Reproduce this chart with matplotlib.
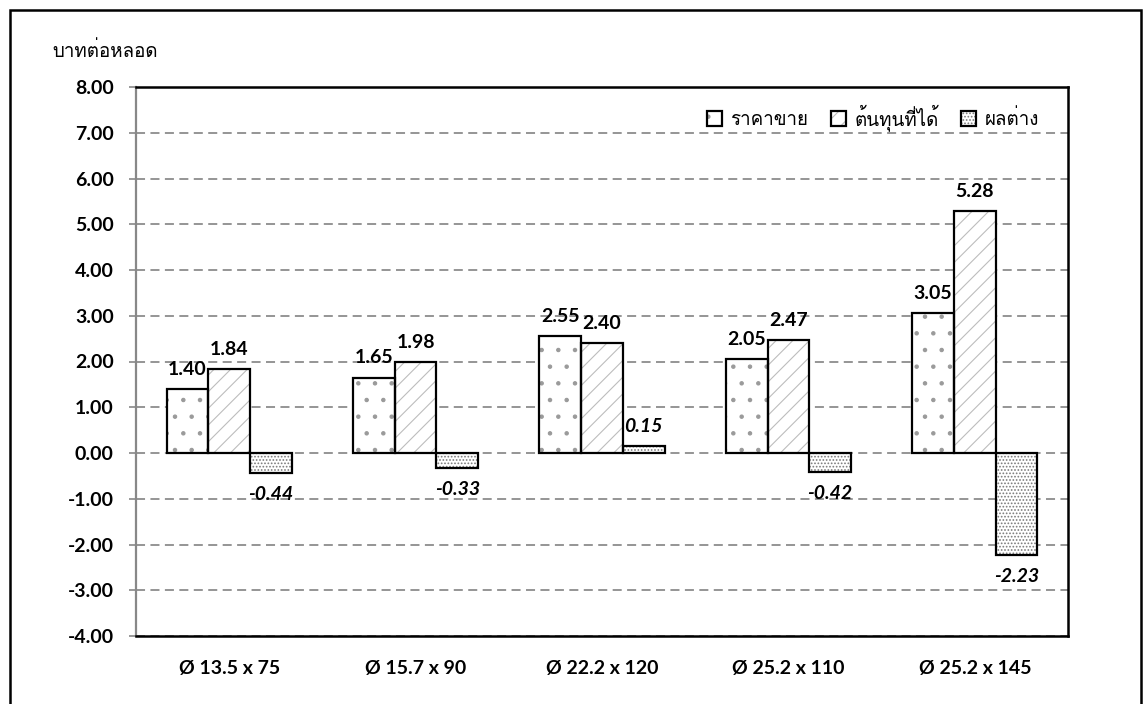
import numpy as np
import matplotlib
matplotlib.use('Agg')
import matplotlib.pyplot as plt
from matplotlib import font_manager as fm
from matplotlib.ft2font import FT2Font
from matplotlib.patches import Rectangle

# data
categories = ['Ø 13.5 x 75', 'Ø 15.7 x 90', 'Ø 22.2 x 120', 'Ø 25.2 x 110', 'Ø 25.2 x 145']
series_names = ['ราคาขาย', 'ต้นทุนที่ได้', 'ผลต่าง']
price = [1.40, 1.65, 2.55, 2.05, 3.05]
cost = [1.84, 1.98, 2.40, 2.47, 5.28]
diff = [-0.44, -0.33, 0.15, -0.42, -2.23]
y_title = 'บาทต่อหลอด'


def find_thai_font():
    # look for any installed font that has Thai glyphs
    for f in fm.fontManager.ttflist:
        try:
            if 0x0E1A in FT2Font(f.fname).get_charmap():
                return f.name
        except Exception:
            pass
    return 'DejaVu Sans'


thai = find_thai_font()
latin = 'Lato'
plt.rcParams['font.family'] = [latin, 'DejaVu Sans']
plt.rcParams['hatch.linewidth'] = 0.8

W, H = 1144, 704
fig = plt.figure(figsize=(W / 100, H / 100), dpi=100)
ax = fig.add_axes([136 / W, 1 - 636 / H, (1068 - 136) / W, (636 - 87) / H])

x = np.arange(len(categories))
w = 0.224
hatches = ['.', '//', '.....']
hatch_cols = ['#9a9a9a', '#bdbdbd', '#7a7a7a']
handles = []
for i, vals in enumerate([price, cost, diff]):
    pos = x + (i - 1) * w
    # fill + grey hatch, then black outline on top
    hb = ax.bar(pos, vals, w, color='white', edgecolor=hatch_cols[i],
                hatch=hatches[i], linewidth=0, zorder=3)
    eb = ax.bar(pos, vals, w, fill=False, edgecolor='black', linewidth=1.6, zorder=4)
    handles.append((hb[0], eb[0]))
    for xp, v in zip(pos, vals):
        if v >= 0:
            ax.annotate(f'{v:.2f}', (xp, v), xytext=(0, 8), textcoords='offset points',
                        ha='center', va='bottom', fontsize=14, fontweight='bold',
                        style='italic' if i == 2 else 'normal')
        else:
            ax.annotate(f'{v:.2f}', (xp, v), xytext=(0, -9), textcoords='offset points',
                        ha='center', va='top', fontsize=14, fontweight='bold',
                        style='italic')

ax.set_xlim(-0.5, len(categories) - 0.5)
ax.set_ylim(-4, 8)
ax.set_yticks(np.arange(-4, 9, 1))
ax.set_yticklabels([f'{t:.2f}' for t in np.arange(-4, 9, 1)], fontsize=14, fontweight='bold')
ax.set_xticks(x)
ax.set_xticklabels(categories, fontsize=14, fontweight='bold')
ax.tick_params(axis='x', length=0, pad=17)
ax.tick_params(axis='y', length=5, width=1.2, color='#888888', pad=11)
ax.yaxis.grid(True, color='#8c8c8c', linestyle=(0, (5, 3)), linewidth=1.3, zorder=0)
ax.set_axisbelow(True)

for s in ['top', 'right', 'bottom']:
    ax.spines[s].set_color('black')
    ax.spines[s].set_linewidth(1.8)
ax.spines['left'].set_color('#888888')
ax.spines['left'].set_linewidth(1.6)
ax.spines['bottom'].set_zorder(5)

leg = ax.legend(handles, series_names, loc='upper right', bbox_to_anchor=(0.987, 1.0),
                ncol=3, frameon=False, handlelength=0.8, handleheight=0.8,
                handletextpad=0.45, columnspacing=1.2, borderaxespad=0.5,
                prop={'family': [thai, 'DejaVu Sans'], 'size': 13.5})

fig.text(52 / W, 1 - 51 / H, y_title, family=[thai, 'DejaVu Sans'],
         fontsize=13.5, va='center', ha='left')

# outer chart frame
fig.patches.append(Rectangle((10 / W, -0.02), (1141 - 10) / W, 1.02 - 10 / H,
                             transform=fig.transFigure, fill=False,
                             edgecolor='black', linewidth=1.8))

fig.savefig('out.png', dpi=100)
